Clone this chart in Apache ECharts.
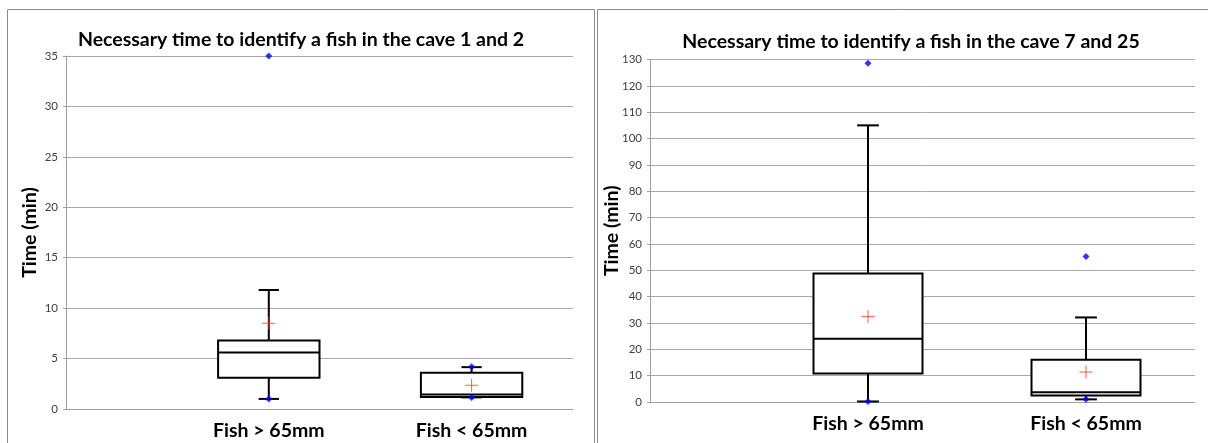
<!DOCTYPE html>
<html>
<head>
<meta charset="utf-8">
<script src="https://cdn.jsdelivr.net/npm/echarts@6/dist/echarts.min.js"></script>
<style>
html,body{margin:0;padding:0;background:#fff;}
#c{width:1208px;height:443px;}
</style>
</head>
<body>
<div id="c"></div>
<script>
// ---- data ----
const categories = ['Fish > 65mm', 'Fish < 65mm'];
const categoryPos = [1, 2];
const titleLeft = 'Necessary time to identify a fish in the cave 1 and 2';
const titleRight = 'Necessary time to identify a fish in the cave 7 and 25';
const yTitle = 'Time (min)';

// caves 1 and 2
const c12WhiskerLow = [1.0, 1.15];
const c12Q1 = [3.1, 1.2];
const c12Median = [5.6, 1.45];
const c12Q3 = [6.8, 3.6];
const c12WhiskerHigh = [11.8, 4.15];
const c12Mean = [8.5, 2.35];
const c12Min = [1.0, 1.15];
const c12Max = [35.0, 4.2];

// caves 7 and 25
const c725WhiskerLow = [0.2, 1.0];
const c725Q1 = [10.8, 2.5];
const c725Median = [24.0, 3.7];
const c725Q3 = [48.8, 16.0];
const c725WhiskerHigh = [105.0, 32.1];
const c725Mean = [32.4, 11.4];
const c725Min = [0.2, 1.0];
const c725Max = [128.6, 55.2];

// ---- build ----
function boxData(lo, q1, med, q3, hi) {
  return categoryPos.map((x, i) => [x, lo[i], q1[i], med[i], q3[i], hi[i]]);
}
function dotData(mins, maxs) {
  const d = [];
  categoryPos.forEach((x, i) => { d.push([x, mins[i]]); d.push([x, maxs[i]]); });
  return d;
}
function meanData(means) {
  return categoryPos.map((x, i) => [x, means[i]]);
}

function renderBox(params, api) {
  const x = api.value(0);
  const pLo = api.coord([x, api.value(1)]);
  const pQ1 = api.coord([x, api.value(2)]);
  const pMed = api.coord([x, api.value(3)]);
  const pQ3 = api.coord([x, api.value(4)]);
  const pHi = api.coord([x, api.value(5)]);
  const half = api.size([0.25, 0])[0];
  const cap = api.size([0.05, 0])[0];
  const cx = pMed[0];
  const st = { stroke: '#000', lineWidth: 2, fill: null };
  return {
    type: 'group',
    children: [
      { type: 'line', shape: { x1: cx, y1: pQ3[1], x2: cx, y2: pHi[1] }, style: st },
      { type: 'line', shape: { x1: cx, y1: pQ1[1], x2: cx, y2: pLo[1] }, style: st },
      { type: 'line', shape: { x1: cx - cap, y1: pHi[1], x2: cx + cap, y2: pHi[1] }, style: st },
      { type: 'line', shape: { x1: cx - cap, y1: pLo[1], x2: cx + cap, y2: pLo[1] }, style: st },
      { type: 'rect', shape: { x: cx - half, y: pQ3[1], width: 2 * half, height: pQ1[1] - pQ3[1] }, style: { stroke: '#000', lineWidth: 2, fill: '#fff' } },
      { type: 'line', shape: { x1: cx - half, y1: pMed[1], x2: cx + half, y2: pMed[1] }, style: st }
    ]
  };
}

const FONT = 'Lato';
const gridColor = '#a9a9a9';

function xAxisCfg(idx) {
  return {
    gridIndex: idx, type: 'value', min: 0, max: 2.5, interval: 0.5,
    axisLine: { show: true, lineStyle: { color: '#a0a0a0', width: 1 } },
    axisTick: { show: false },
    splitLine: { show: false },
    axisLabel: {
      margin: 12, color: '#000', fontFamily: FONT, fontWeight: 'bold', fontSize: 19.5,
      formatter: v => { const i = categoryPos.indexOf(v); return i >= 0 ? categories[i] : ''; }
    }
  };
}
function yAxisCfg(idx, max, interval, gap) {
  return {
    gridIndex: idx, type: 'value', min: 0, max: max, interval: interval,
    name: yTitle, nameLocation: 'middle', nameGap: gap, nameMoveOverlap: false,
    nameTextStyle: { fontFamily: FONT, fontWeight: 'bold', fontSize: 19.5, color: '#000' },
    axisLine: { show: true, lineStyle: { color: '#a0a0a0', width: 1 } },
    axisTick: { show: true, length: 3, lineStyle: { color: '#a0a0a0' } },
    splitLine: { show: true, lineStyle: { color: gridColor, width: 1 } },
    axisLabel: { margin: 8, color: '#404040', fontFamily: FONT, fontSize: 11.5 }
  };
}

const plusPath = 'path://M0,5L10,5M5,0L5,10';

const option = {
  animation: false,
  backgroundColor: '#fff',
  graphic: [
    { type: 'rect', shape: { x: 7.5, y: 9.5, width: 587, height: 450 }, style: { fill: null, stroke: '#8c8c8c', lineWidth: 1 }, silent: true },
    { type: 'rect', shape: { x: 597.5, y: 9.5, width: 620, height: 450 }, style: { fill: null, stroke: '#8c8c8c', lineWidth: 1 }, silent: true }
  ],
  title: [
    { text: titleLeft, left: 296, top: 25, textAlign: 'center', textStyle: { fontFamily: FONT, fontWeight: 'bold', fontSize: 19.5, color: '#000' } },
    { text: titleRight, left: 906, top: 27, textAlign: 'center', textStyle: { fontFamily: FONT, fontWeight: 'bold', fontSize: 19.5, color: '#000' } }
  ],
  grid: [
    { left: 66, right: 635, top: 56, bottom: 34 },
    { left: 650, right: 13, top: 59.5, bottom: 41 }
  ],
  xAxis: [xAxisCfg(0), xAxisCfg(1)],
  yAxis: [yAxisCfg(0, 35, 5, 26), yAxisCfg(1, 130, 10, 28)],
  series: [
    { type: 'custom', xAxisIndex: 0, yAxisIndex: 0, renderItem: renderBox, encode: { x: 0, y: [1, 2, 3, 4, 5] }, clip: false, z: 2,
      data: boxData(c12WhiskerLow, c12Q1, c12Median, c12Q3, c12WhiskerHigh) },
    { type: 'scatter', xAxisIndex: 0, yAxisIndex: 0, symbol: 'diamond', symbolSize: 7, itemStyle: { color: '#0000ff' }, z: 5, clip: false,
      data: dotData(c12Min, c12Max) },
    { type: 'scatter', xAxisIndex: 0, yAxisIndex: 0, symbol: plusPath, symbolSize: 13, z: 6, clip: false,
      itemStyle: { color: 'rgba(0,0,0,0)', borderColor: '#ff3030', borderWidth: 1 },
      data: meanData(c12Mean) },

    { type: 'custom', xAxisIndex: 1, yAxisIndex: 1, renderItem: renderBox, encode: { x: 0, y: [1, 2, 3, 4, 5] }, clip: false, z: 2,
      data: boxData(c725WhiskerLow, c725Q1, c725Median, c725Q3, c725WhiskerHigh) },
    { type: 'scatter', xAxisIndex: 1, yAxisIndex: 1, symbol: 'diamond', symbolSize: 7, itemStyle: { color: '#0000ff' }, z: 5, clip: false,
      data: dotData(c725Min, c725Max) },
    { type: 'scatter', xAxisIndex: 1, yAxisIndex: 1, symbol: plusPath, symbolSize: 13, z: 6, clip: false,
      itemStyle: { color: 'rgba(0,0,0,0)', borderColor: '#ff3030', borderWidth: 1 },
      data: meanData(c725Mean) }
  ]
};

const chart = echarts.init(document.getElementById('c'), null, { renderer: 'canvas' });
chart.setOption(option);
</script>
</body>
</html>
